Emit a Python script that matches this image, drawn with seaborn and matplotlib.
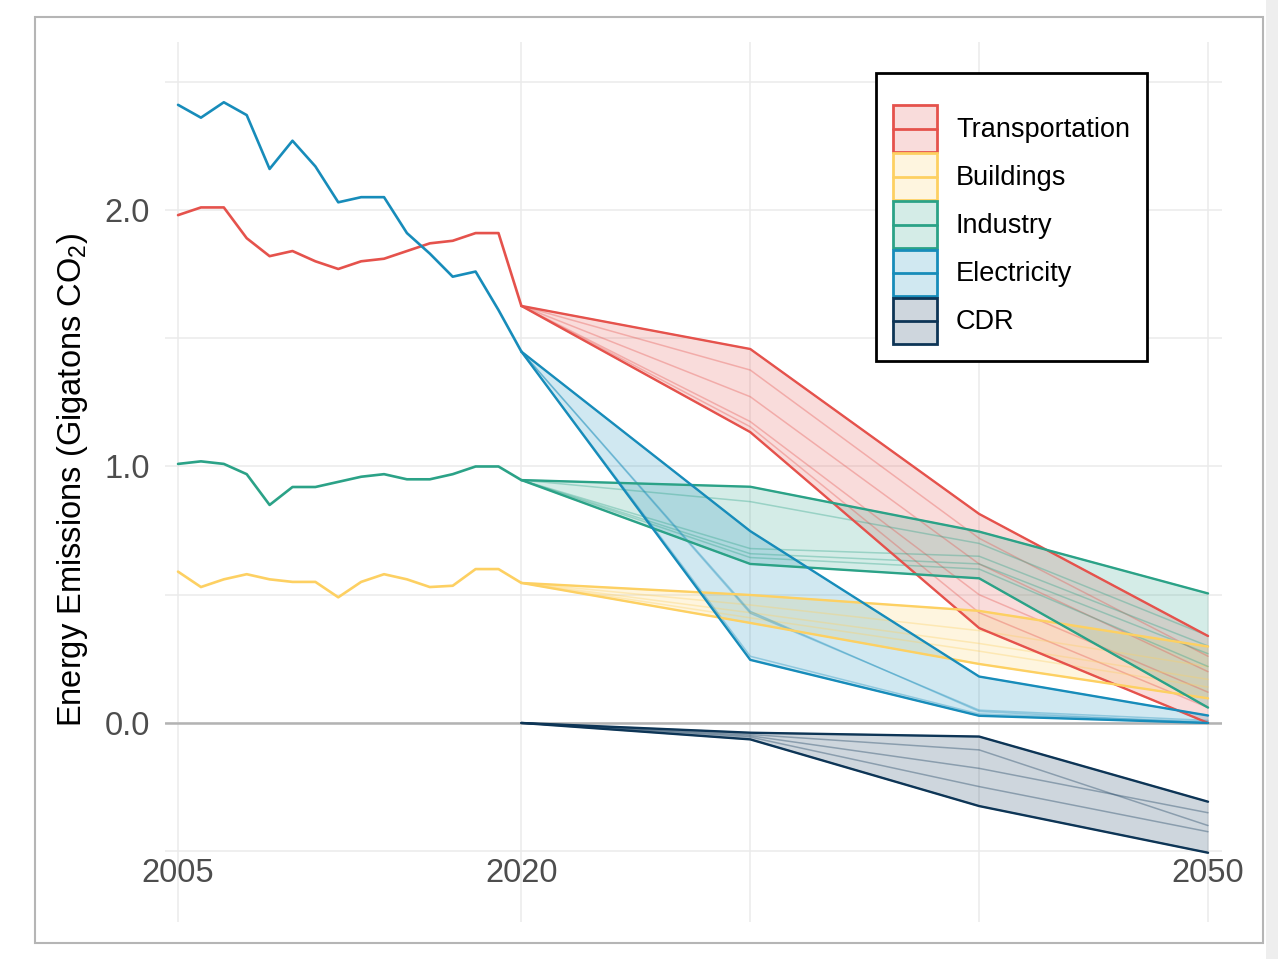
import numpy as np
import pandas as pd
import seaborn as sns
import matplotlib.pyplot as plt
from matplotlib.patches import Patch, Rectangle
from matplotlib.lines import Line2D
from matplotlib.legend_handler import HandlerBase
from matplotlib import colors as mcolors

sectors = ['Transportation', 'Buildings', 'Industry', 'Electricity', 'CDR']
sector_colors = ['#E5524C', '#FDD062', '#2BA287', '#178CBA', '#0D3556']

# historical emissions (Gt CO2), 2005-2020
hist_years = list(range(2005, 2021))
hist_transportation = [1.98, 2.01, 2.01, 1.89, 1.82, 1.84, 1.80, 1.77, 1.80, 1.81,
                       1.84, 1.87, 1.88, 1.91, 1.91, 1.626]
hist_buildings = [0.59, 0.53, 0.56, 0.58, 0.56, 0.55, 0.55, 0.49, 0.55, 0.58,
                  0.56, 0.53, 0.535, 0.60, 0.60, 0.546]
hist_industry = [1.01, 1.02, 1.01, 0.97, 0.85, 0.92, 0.92, 0.94, 0.96, 0.97,
                 0.95, 0.95, 0.97, 1.00, 1.00, 0.947]
hist_electricity = [2.41, 2.36, 2.42, 2.37, 2.16, 2.27, 2.17, 2.03, 2.05, 2.05,
                    1.91, 1.83, 1.74, 1.76, 1.61, 1.448]

# scenario runs, 2020/2030/2040/2050
scen_years = [2020, 2030, 2040, 2050]
scen_transportation = [
    [1.626, 1.458, 0.815, 0.339],
    [1.626, 1.376, 0.72, 0.26],
    [1.626, 1.272, 0.62, 0.20],
    [1.626, 1.175, 0.50, 0.12],
    [1.626, 1.155, 0.43, 0.06],
    [1.626, 1.134, 0.37, 0.0],
]
scen_buildings = [
    [0.546, 0.499, 0.437, 0.298],
    [0.546, 0.46, 0.36, 0.22],
    [0.546, 0.43, 0.31, 0.17],
    [0.546, 0.41, 0.28, 0.14],
    [0.546, 0.39, 0.23, 0.096],
]
scen_industry = [
    [0.947, 0.921, 0.746, 0.505],
    [0.947, 0.863, 0.70, 0.34],
    [0.947, 0.68, 0.65, 0.30],
    [0.947, 0.66, 0.62, 0.27],
    [0.947, 0.645, 0.60, 0.22],
    [0.947, 0.62, 0.564, 0.06],
]
scen_electricity = [
    [1.448, 0.748, 0.181, 0.029],
    [1.448, 0.428, 0.05, 0.01],
    [1.448, 0.435, 0.045, 0.0],
    [1.448, 0.26, 0.035, 0.005],
    [1.448, 0.246, 0.028, 0.0],
]
scen_cdr = [
    [0.0, -0.038, -0.053, -0.307],
    [0.0, -0.045, -0.105, -0.40],
    [0.0, -0.05, -0.177, -0.35],
    [0.0, -0.055, -0.248, -0.424],
    [0.0, -0.064, -0.324, -0.506],
]


class KeyHandler(HandlerBase):
    # filled box with a line through the middle, like a ggplot ribbon+line key
    def create_artists(self, legend, orig_handle, xdescent, ydescent, width,
                       height, fontsize, trans):
        c = orig_handle.get_edgecolor()
        box = Rectangle((-xdescent, -ydescent), width, height,
                        facecolor=orig_handle.get_facecolor(), edgecolor=c,
                        lw=2.0, transform=trans)
        mid = -ydescent + height / 2
        line = Line2D([-xdescent, -xdescent + width], [mid, mid], color=c,
                      lw=2.0, transform=trans)
        return [box, line]


sns.set_style('white')
plt.rcParams['font.family'] = ['Liberation Sans', 'DejaVu Sans']
plt.rcParams['mathtext.fontset'] = 'custom'
plt.rcParams['mathtext.rm'] = 'Liberation Sans'

pal = dict(zip(sectors, sector_colors))

hist = pd.concat([
    pd.DataFrame({'year': hist_years, 'value': v, 'sector': s})
    for s, v in zip(sectors[:4], [hist_transportation, hist_buildings,
                                  hist_industry, hist_electricity])
])

rows = []
for s, runs in zip(sectors, [scen_transportation, scen_buildings, scen_industry,
                             scen_electricity, scen_cdr]):
    for k, run in enumerate(runs):
        for yr, v in zip(scen_years, run):
            rows.append((s, k, yr, v))
scen = pd.DataFrame(rows, columns=['sector', 'run', 'year', 'value'])
env = scen.groupby(['sector', 'year'])['value'].agg(['min', 'max']).reset_index()

fig = plt.figure(figsize=(12.78, 9.59), dpi=100)
ax = fig.add_axes([165/1278, 1 - 922/959, (1222-165)/1278, (922-42)/959])

# grid
ax.set_xticks([2005, 2020, 2050])
ax.set_xticks([2030, 2040], minor=True)
ax.set_yticks([0, 1, 2])
ax.set_yticks([-0.5, 0.5, 1.5, 2.5], minor=True)
ax.set_yticklabels(['0.0', '1.0', '2.0'])
ax.grid(which='both', color='#EBEBEB', lw=1.1, zorder=0)
ax.set_axisbelow(True)
ax.axhline(0, color='#B3B3B3', lw=1.8, zorder=1.5)

for s, c in zip(sectors, sector_colors):
    e = env[env['sector'] == s]
    ax.fill_between(e['year'], e['min'], e['max'], color=c, alpha=0.2, lw=0, zorder=2)
    sns.lineplot(data=scen[scen['sector'] == s], x='year', y='value', units='run',
                 estimator=None, color=c, alpha=0.35, lw=1.1, ax=ax, zorder=2.2)
    ax.plot(e['year'], e['min'], color=c, lw=1.7, zorder=2.5)
    ax.plot(e['year'], e['max'], color=c, lw=1.7, zorder=2.5)

sns.lineplot(data=hist, x='year', y='value', hue='sector', palette=pal,
             lw=1.9, legend=False, ax=ax, zorder=3)

ax.set_xlim(2004.43, 2050.61)
ax.set_ylim(-0.776, 2.655)
for sp in ax.spines.values():
    sp.set_visible(False)

ax.tick_params(axis='x', length=0, pad=-46, labelsize=23.5, labelcolor='#4D4D4D')
ax.tick_params(axis='y', length=0, pad=11, labelsize=23.5, labelcolor='#4D4D4D')
ax.set_xlabel('')
ax.set_ylabel('Energy Emissions (Gigatons CO$\\mathregular{_2}$)', fontsize=23.5,
              color='black')
ax.yaxis.set_label_coords(-0.071, 0.503)

handles = [Patch(facecolor=mcolors.to_rgba(c, 0.2), edgecolor=c) for c in sector_colors]
leg = ax.legend(handles, sectors, loc='upper left',
                handler_map={Patch: KeyHandler()},
                bbox_to_anchor=(876/1278, 1 - 73/959), bbox_transform=fig.transFigure,
                borderaxespad=0, fontsize=19.5, handlelength=1.63, handleheight=2.28,
                labelspacing=0.05, handletextpad=0.7, borderpad=0.62,
                fancybox=False, framealpha=1, edgecolor='black',
                title=' ', title_fontsize=11, labelcolor='black')
leg.get_frame().set_linewidth(2.0)

# page border
fig.patches.append(Rectangle((35/1278, 1 - 943/959), (1263-35)/1278, (943-17)/959,
                             transform=fig.transFigure, fill=False,
                             edgecolor='#B5B5B5', lw=1.5))
fig.patches.append(Rectangle((1266/1278, 0), 12/1278, 1, transform=fig.transFigure,
                             facecolor='#EEEEEE', edgecolor='none'))

fig.savefig('out.png', dpi=100)
